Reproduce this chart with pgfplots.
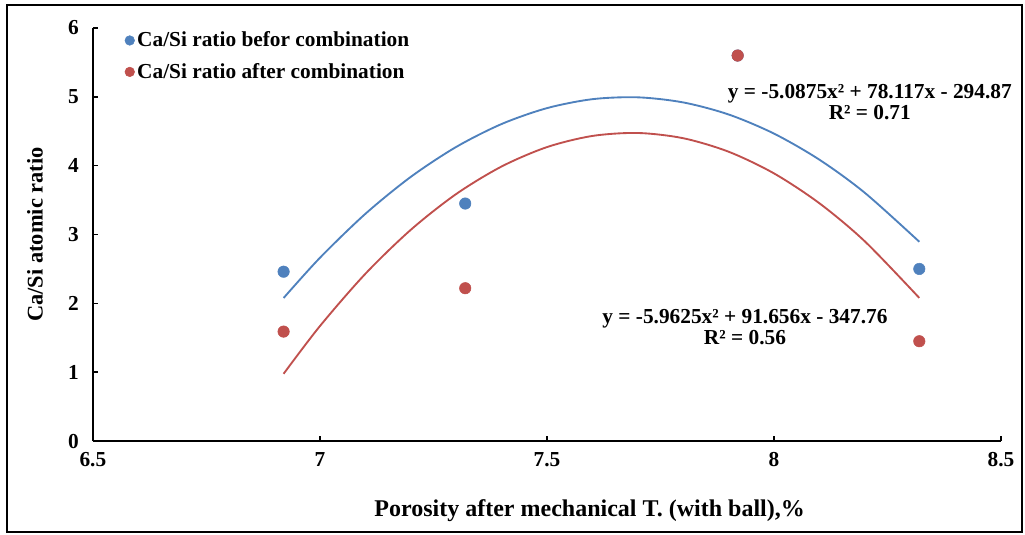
\documentclass[border=0pt]{standalone}
\usepackage{pgfplots}
\pgfplotsset{compat=1.18}
\usepackage{fontspec}
\setmainfont{Liberation Serif}
\definecolor{sblue}{RGB}{79,129,189}
\definecolor{sred}{RGB}{192,80,77}
\begin{document}
\begin{tikzpicture}
\begin{axis}[
  scale only axis,
  width=681pt, height=309.75pt,
  xmin=6.5, xmax=8.5, ymin=0, ymax=6,
  xtick={6.5,7,7.5,8,8.5},
  ytick={0,1,2,3,4,5,6},
  xticklabels={\bfseries 6.5,\bfseries 7,\bfseries 7.5,\bfseries 8,\bfseries 8.5},
  yticklabels={\bfseries 0,\bfseries 1,\bfseries 2,\bfseries 3,\bfseries 4,\bfseries 5,\bfseries 6},
  axis x line*=bottom, axis y line*=left,
  axis line style={line width=1.4pt,-},
  tick style={line width=1.1pt, black},
  tick align=inside, major tick length=4pt,
  tick label style={font=\fontsize{16}{18}\selectfont\bfseries},
  /pgf/number format/assume math mode=true,
  xticklabel style={yshift=-5pt},
  yticklabel style={xshift=-7pt},
  xlabel={Porosity after mechanical T. (with ball),\%},
  ylabel={Ca/Si atomic ratio},
  xlabel style={font=\fontsize{18}{20}\selectfont\bfseries, at={(axis description cs:0.547,-0.169)}, anchor=center},
  ylabel style={font=\fontsize{16.8}{19}\selectfont\bfseries, at={(axis description cs:-0.0639,0.5)}, anchor=center, rotate=0},
  legend style={draw=none, fill=none, at={(axis cs:6.57,5.985)}, anchor=north west,
     font=\fontsize{16}{18}\selectfont\bfseries, row sep=6.8pt,
     legend cell align=left, inner sep=0pt},
  legend image code/.code={\draw[mark size=3.6pt] plot coordinates {(0.1cm,0cm)};},
  clip=false,
]
\addplot[only marks, mark=*, mark size=4.3pt, sblue, mark options={draw=sblue, fill=sblue}]
  coordinates {(6.92,2.46) (7.32,3.45) (7.92,5.60) (8.32,2.50)};
\addlegendentry{Ca/Si ratio befor combination}
\addplot[only marks, mark=*, mark size=4.3pt, sred, mark options={draw=sred, fill=sred}]
  coordinates {(6.92,1.59) (7.32,2.22) (7.92,5.60) (8.32,1.45)};
\addlegendentry{Ca/Si ratio after combination}
\addplot[sblue, line width=1.4pt, smooth, forget plot] coordinates {
(6.92,2.078) (7.0,2.662) (7.1,3.300) (7.2,3.837) (7.3,4.272) (7.4,4.605) (7.5,4.836)
(7.6,4.966) (7.7,4.993) (7.8,4.919) (7.9,4.744) (8.0,4.466) (8.1,4.087) (8.2,3.606) (8.32,2.895)};
\addplot[sred, line width=1.4pt, smooth, forget plot] coordinates {
(6.92,0.977) (7.0,1.670) (7.1,2.429) (7.2,3.068) (7.3,3.588) (7.4,3.988) (7.5,4.270)
(7.6,4.432) (7.7,4.475) (7.8,4.399) (7.9,4.203) (8.0,3.888) (8.1,3.454) (8.2,2.901) (8.32,2.079)};
\node[align=center, font=\fontsize{16}{16}\selectfont\bfseries] at (axis cs:8.211,4.925)
  {y = -5.0875x² + 78.117x - 294.87\\R² = 0.71};
\node[align=center, font=\fontsize{16}{16}\selectfont\bfseries] at (axis cs:7.936,1.656)
  {y = -5.9625x² + 91.656x - 347.76\\R² = 0.56};
\draw[line width=2pt] (rel axis cs:-0.0947,-0.2203) rectangle (rel axis cs:1.0231,1.0557);
\path (rel axis cs:-0.1023,-0.2252) rectangle (rel axis cs:1.0264,1.0678);
\end{axis}
\end{tikzpicture}
\end{document}
